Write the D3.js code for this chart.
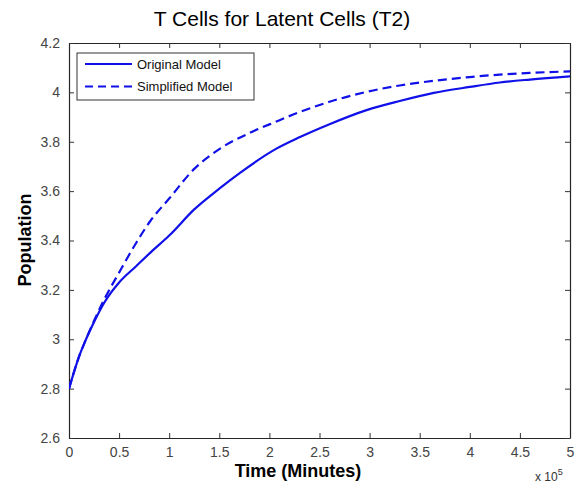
<!DOCTYPE html>
<html>
<head>
<meta charset="utf-8">
<script src="https://cdn.jsdelivr.net/npm/d3@7"></script>
<style>
  body { margin: 0; background: #fff; }
  svg { font-family: Arial, "Liberation Sans", sans-serif; }
</style>
</head>
<body>
<svg id="chart" width="583" height="491"></svg>
<script>
// time in units of 1e5 minutes
const origTime = [0, 0.1, 0.17, 0.25, 0.35, 0.5, 0.67, 0.81, 1.0, 1.25, 1.5, 1.71, 2.07, 2.3, 2.6, 2.97, 3.3, 3.64, 4.0, 4.3, 4.6, 5.0];
const origPop = [2.8, 2.93, 3.0, 3.07, 3.147, 3.23, 3.296, 3.35, 3.42, 3.526, 3.61, 3.675, 3.772, 3.818, 3.871, 3.928, 3.965, 3.998, 4.022, 4.04, 4.052, 4.065];
const simpTime = [0, 0.1, 0.17, 0.25, 0.35, 0.5, 0.67, 0.81, 1.0, 1.25, 1.5, 1.81, 2.07, 2.3, 2.6, 2.97, 3.3, 3.64, 4.0, 4.3, 4.6, 5.0];
const simpPop = [2.8, 2.93, 3.0, 3.075, 3.16, 3.27, 3.39, 3.478, 3.57, 3.69, 3.77, 3.837, 3.882, 3.92, 3.962, 4.002, 4.028, 4.047, 4.062, 4.072, 4.079, 4.085];
const xTicks = [0, 0.5, 1, 1.5, 2, 2.5, 3, 3.5, 4, 4.5, 5];
const yTicks = [2.6, 2.8, 3, 3.2, 3.4, 3.6, 3.8, 4, 4.2];
const seriesNames = ["Original Model", "Simplified Model"];

const svg = d3.select("#chart");
const plotLeft = 69, plotRight = 570, plotTop = 43, plotBottom = 438;

const x = d3.scaleLinear().domain([0, 5]).range([plotLeft, plotRight]);
const y = d3.scaleLinear().domain([2.6, 4.2]).range([plotBottom, plotTop]);

const axisColor = "#262626";
const tickColor = "#333";

// clip for curves
svg.append("clipPath").attr("id", "plotclip")
  .append("rect").attr("x", plotLeft).attr("y", plotTop)
  .attr("width", plotRight - plotLeft).attr("height", plotBottom - plotTop);

// bottom axis
const gx = svg.append("g").attr("transform", "translate(0," + plotBottom + ")")
  .call(d3.axisBottom(x).tickValues(xTicks).tickSizeInner(-5).tickSizeOuter(0).tickPadding(9)
    .tickFormat(d => d3.format("~g")(d)));
// top axis (ticks only)
const gxt = svg.append("g").attr("transform", "translate(0," + plotTop + ")")
  .call(d3.axisTop(x).tickValues(xTicks).tickSizeInner(-5).tickSizeOuter(0).tickFormat(""));
// left axis
const gy = svg.append("g").attr("transform", "translate(" + plotLeft + ",0)")
  .call(d3.axisLeft(y).tickValues(yTicks).tickSizeInner(-5).tickSizeOuter(0).tickPadding(9)
    .tickFormat(d => d3.format("~g")(d)));
// right axis (ticks only)
const gyr = svg.append("g").attr("transform", "translate(" + plotRight + ",0)")
  .call(d3.axisRight(y).tickValues(yTicks).tickSizeInner(-5).tickSizeOuter(0).tickFormat(""));

[gx, gxt, gy, gyr].forEach(g => {
  g.select(".domain").attr("stroke", axisColor).attr("stroke-width", 1.2);
  g.selectAll(".tick line").attr("stroke", tickColor);
  g.selectAll(".tick text").attr("fill", "#444").attr("font-size", 14)
    .attr("font-family", "Arial, 'Liberation Sans', sans-serif");
});

// curves
const line = d3.line().x(d => x(d[0])).y(d => y(d[1])).curve(d3.curveMonotoneX);
const origData = origTime.map((t, i) => [t, origPop[i]]);
const simpData = simpTime.map((t, i) => [t, simpPop[i]]);
const lineColor = "#1010e8";

svg.append("path").datum(simpData)
  .attr("clip-path", "url(#plotclip)")
  .attr("d", line).attr("fill", "none")
  .attr("stroke", lineColor).attr("stroke-width", 2.2)
  .attr("stroke-dasharray", "9,5");
svg.append("path").datum(origData)
  .attr("clip-path", "url(#plotclip)")
  .attr("d", line).attr("fill", "none")
  .attr("stroke", lineColor).attr("stroke-width", 2.2);

// legend
const legend = svg.append("g");
legend.append("rect")
  .attr("x", 77).attr("y", 53).attr("width", 177).attr("height", 47)
  .attr("fill", "#fff").attr("stroke", "#333").attr("stroke-width", 1);
seriesNames.forEach((name, i) => {
  const ly = 64 + i * 22.5;
  legend.append("line")
    .attr("x1", 85).attr("x2", 132).attr("y1", ly).attr("y2", ly)
    .attr("stroke", lineColor).attr("stroke-width", 2)
    .attr("stroke-dasharray", i === 1 ? "8,5" : null);
  legend.append("text")
    .attr("x", 137).attr("y", ly + 4.5)
    .attr("font-size", 13).attr("fill", "#111")
    .text(name);
});

// title
svg.append("text")
  .attr("x", 282).attr("y", 26)
  .attr("text-anchor", "middle").attr("font-size", 21).attr("fill", "#000")
  .text("T Cells for Latent Cells (T2)");

// axis labels
svg.append("text")
  .attr("x", 298).attr("y", 477)
  .attr("text-anchor", "middle").attr("font-size", 18).attr("font-weight", "bold")
  .text("Time (Minutes)");
svg.append("text")
  .attr("transform", "translate(31,240) rotate(-90)")
  .attr("text-anchor", "middle").attr("font-size", 18).attr("font-weight", "bold")
  .text("Population");

// exponent
const expo = svg.append("text")
  .attr("x", 535).attr("y", 481)
  .attr("font-size", 12).attr("fill", "#333");
expo.append("tspan").text("x 10");
expo.append("tspan").attr("dy", -6).attr("font-size", 9).text("5");
</script>
</body>
</html>
